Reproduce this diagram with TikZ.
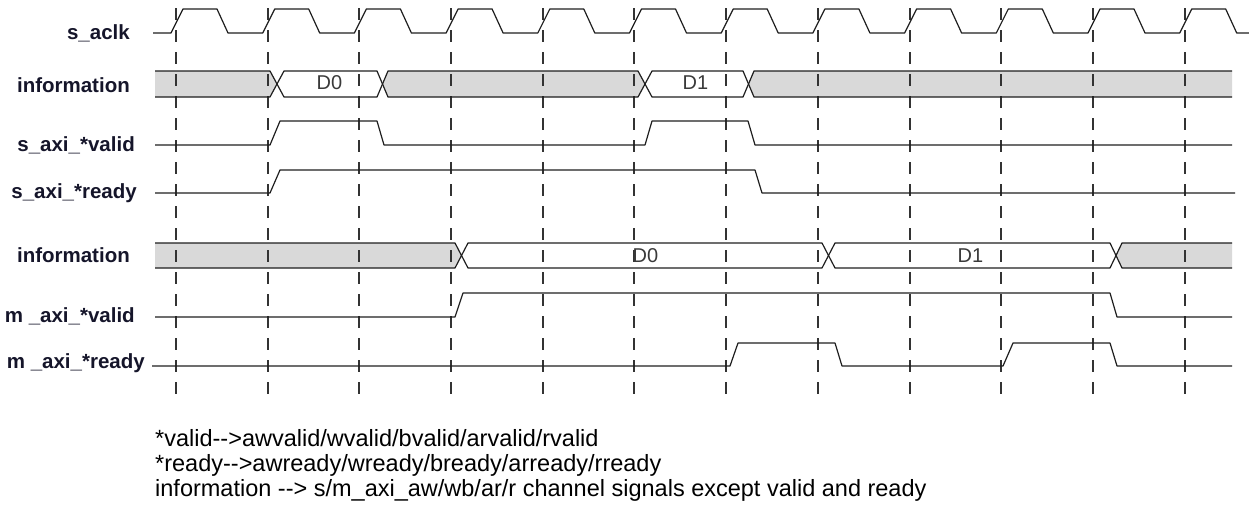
\documentclass[tikz,border=0pt]{standalone}
\usepackage{fontspec}
\setmainfont{Liberation Sans}
\definecolor{wave}{HTML}{1E1E1E}
\definecolor{busfill}{HTML}{D9D9D9}
\definecolor{labelc}{HTML}{15152A}
\definecolor{dtext}{HTML}{3A3A3A}
\definecolor{dashc}{HTML}{333333}
\newcommand\dashdash{\mbox{-}\mbox{-}}
\begin{document}
\begin{tikzpicture}[x=1pt,y=-1pt,
  sig/.style={draw=wave,line width=1.2pt,line join=round},
  grid/.style={draw=dashc,line width=2pt,dash pattern=on 12pt off 10pt},
  siglabel/.style={anchor=base east,inner sep=0pt,text=labelc,font=\bfseries\fontsize{20.5}{24}\selectfont},
  dlabel/.style={anchor=base,inner sep=0pt,text=dtext,font=\fontsize{20}{24}\selectfont},
  note/.style={anchor=base west,inner sep=0pt,text=black,font=\fontsize{23.5}{26}\selectfont}]
\useasboundingbox (0,0) rectangle (1249,512);

% bus backgrounds
\fill[busfill] (155,71)--(270,71)--(277,84)--(270,97)--(155,97)--cycle;
\fill[busfill] (382.5,84)--(388,71)--(638,71)--(645,84)--(638,97)--(388,97)--cycle;
\fill[busfill] (748.5,84)--(754,71)--(1232,71)--(1232,97)--(754,97)--cycle;
\fill[busfill] (155,243)--(455,243)--(461.5,255.5)--(455,268)--(155,268)--cycle;
\fill[busfill] (1116,255.5)--(1122,243)--(1232,243)--(1232,268)--(1122,268)--cycle;

% clock edge grid
\foreach \k in {0,...,11}{
  \coordinate (gt\k) at ({int(176.5+91.7*\k)},8);
  \coordinate (gb\k) at ({int(176.5+91.7*\k)},395);
  \draw[grid] (gt\k) -- (gb\k);
}

% clock
\draw[sig] (153,33) \foreach \k in {0,...,11}{
  -- ({176+91.7*\k-5},33) -- ({176+91.7*\k+7},9) -- ({176+91.7*\k+41},9) -- ({176+91.7*\k+52},33)} -- (1249,33);

% information (slave side)
\draw[sig] (155,71)--(270,71)--(284,97)--(377,97)--(388,71)--(638,71)--(652,97)--(743,97)--(754,71)--(1232,71);
\draw[sig] (155,97)--(270,97)--(284,71)--(377,71)--(388,97)--(638,97)--(652,71)--(743,71)--(754,97)--(1232,97);
\node[dlabel] (d0a) at (329.5,89) {D0};
\node[dlabel] (d1a) at (695.5,89) {D1};

% s valid / ready
\draw[sig] (155,145)--(270,145)--(280,121)--(377,121)--(384,145)--(645,145)--(652,121)--(748,121)--(755,145)--(1232,145);
\draw[sig] (155,193)--(270,193)--(280,170)--(755,170)--(762,193)--(1235,193);

% information (master side)
\draw[sig] (155,243)--(455,243)--(468,268)--(822,268)--(835,243)--(1110,243)--(1122,268)--(1232,268);
\draw[sig] (155,268)--(455,268)--(468,243)--(822,243)--(835,268)--(1110,268)--(1122,243)--(1232,243);
\node[dlabel] (d0b) at (645.5,262) {D0};
\node[dlabel] (d1b) at (970.5,262) {D1};

% m valid / ready
\draw[sig] (155,317)--(455,317)--(463,293)--(1110,293)--(1117,317)--(1232,317);
\draw[sig] (152,366)--(730,366)--(738,343)--(835,343)--(842,366)--(1003,366)--(1013,343)--(1110,343)--(1117,366)--(1232,366);

% labels
\node[siglabel] (lclk) at (130,39) {s\_aclk};
\node[siglabel] (linfo1) at (130,92) {information};
\node[siglabel] (lsvalid) at (135,151) {s\_axi\_*valid};
\node[siglabel] (lsready) at (137,198) {s\_axi\_*ready};
\node[siglabel] (linfo2) at (130,262) {information};
\node[siglabel] (lmvalid) at (135,322) {m \_axi\_*valid};
\node[siglabel] (lmready) at (145,368) {m \_axi\_*ready};

% notes
\node[note] (n1) at (155,446) {*valid\dashdash>awvalid/wvalid/bvalid/arvalid/rvalid};
\node[note] (n2) at (155,471) {*ready\dashdash>awready/wready/bready/arready/rready};
\node[note] (n3) at (155,496) {information \dashdash> s/m\_axi\_aw/wb/ar/r channel signals except valid and ready};
\end{tikzpicture}
\end{document}
